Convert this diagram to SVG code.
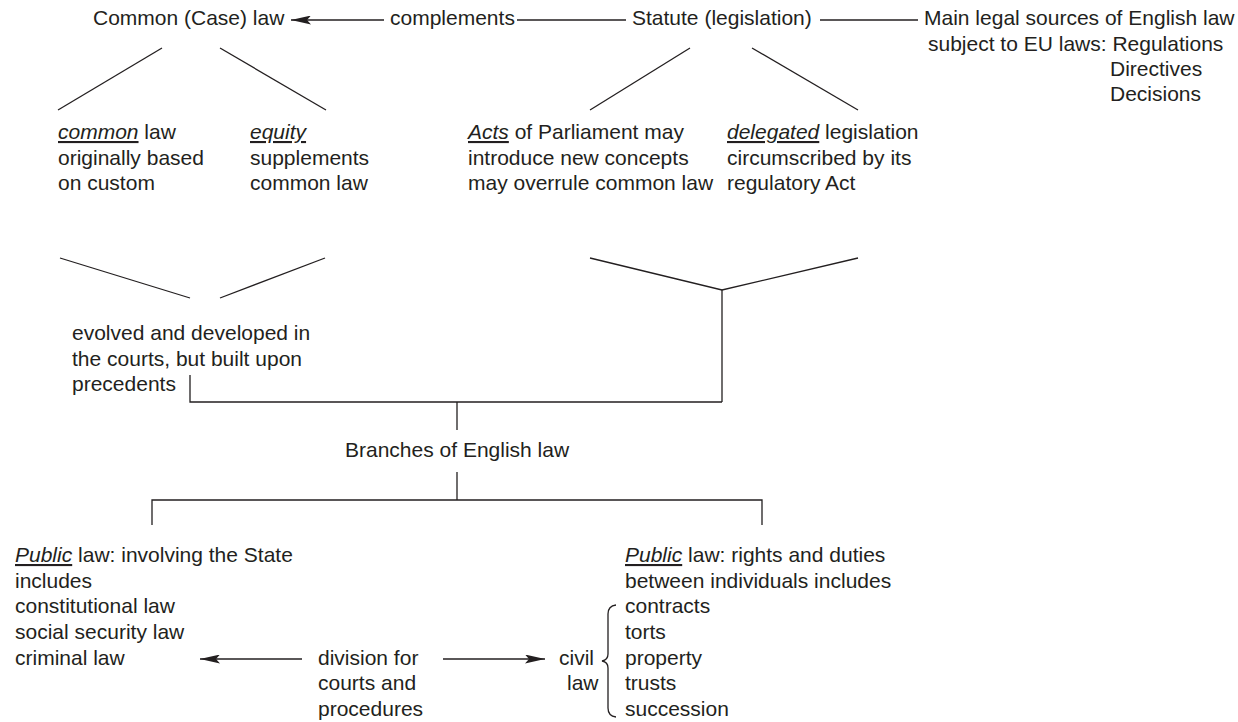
<svg xmlns="http://www.w3.org/2000/svg" width="1238" height="722" viewBox="0 0 1238 722">
<style>
text{font-family:"Liberation Sans",Arial,sans-serif;font-size:21px;fill:#231f20}
.u{font-style:italic;text-decoration:underline}
.ln{stroke:#231f20;stroke-width:1.3;fill:none}
</style>
<defs>
<marker id="ah" viewBox="0 0 20 9" refX="20" refY="4.5" markerWidth="20" markerHeight="9" orient="auto" markerUnits="userSpaceOnUse"><path d="M0,0 L20,4.5 L0,9 L4,4.5 Z" fill="#231f20"/></marker>
</defs>
<rect width="1238" height="722" fill="#fff"/>
<g id="connectors">
<line class="ln" x1="384" y1="20" x2="291" y2="20" marker-end="url(#ah)"/>
<line class="ln" x1="517" y1="20" x2="626" y2="20"/>
<line class="ln" x1="820" y1="20" x2="918" y2="20"/>
<line class="ln" x1="162" y1="48" x2="58" y2="110"/>
<line class="ln" x1="220" y1="48" x2="326" y2="110"/>
<line class="ln" x1="690" y1="48" x2="590" y2="110"/>
<line class="ln" x1="752" y1="48" x2="858" y2="110"/>
<line class="ln" x1="60" y1="258" x2="190" y2="298"/>
<line class="ln" x1="325" y1="258" x2="220" y2="298"/>
<polyline class="ln" points="590,258 722,290 858,258"/>
<line class="ln" x1="722" y1="290" x2="722" y2="402"/>
<polyline class="ln" points="190,375 190,402 722,402"/>
<line class="ln" x1="457" y1="402" x2="457" y2="430"/>
<line class="ln" x1="457" y1="472" x2="457" y2="500"/>
<polyline class="ln" points="152,525 152,500 762,500 762,525"/>
<line class="ln" x1="302" y1="659" x2="200" y2="659" marker-end="url(#ah)"/>
<line class="ln" x1="443" y1="659" x2="545" y2="659" marker-end="url(#ah)"/>
<path class="ln" d="M616,605 Q608,606 608,614 L608,654 Q608,660 602,661 Q608,662 608,668 L608,708 Q608,716 616,717"/>
</g>
<g id="common-case-law"><text x="93" y="25">Common (Case) law</text></g>
<g id="complements"><text x="390" y="25">complements</text></g>
<g id="statute"><text x="632" y="25">Statute (legislation)</text></g>
<g id="main-sources">
<text x="924" y="25">Main legal sources of English law</text>
<text x="928" y="51">subject to EU laws: Regulations</text>
<text x="1110" y="76">Directives</text>
<text x="1110" y="101">Decisions</text>
</g>
<g id="common-law">
<text x="58" y="139"><tspan class="u">common</tspan> law</text>
<text x="58" y="164.5">originally based</text>
<text x="58" y="190">on custom</text>
</g>
<g id="equity">
<text x="250" y="139"><tspan class="u">equity</tspan></text>
<text x="250" y="164.5">supplements</text>
<text x="250" y="190">common law</text>
</g>
<g id="acts">
<text x="468" y="139"><tspan class="u">Acts</tspan> of Parliament may</text>
<text x="468" y="164.5">introduce new concepts</text>
<text x="468" y="190">may overrule common law</text>
</g>
<g id="delegated">
<text x="727" y="139"><tspan class="u">delegated</tspan> legislation</text>
<text x="727" y="164.5">circumscribed by its</text>
<text x="727" y="190">regulatory Act</text>
</g>
<g id="evolved">
<text x="72" y="340">evolved and developed in</text>
<text x="72" y="365.5">the courts, but built upon</text>
<text x="72" y="391">precedents</text>
</g>
<g id="branches"><text x="345" y="457">Branches of English law</text></g>
<g id="public-state">
<text x="15" y="562"><tspan class="u">Public</tspan> law: involving the State</text>
<text x="15" y="588">includes</text>
<text x="15" y="613">constitutional law</text>
<text x="15" y="639">social security law</text>
<text x="15" y="665">criminal law</text>
</g>
<g id="public-individuals">
<text x="625" y="562"><tspan class="u">Public</tspan> law: rights and duties</text>
<text x="625" y="588">between individuals includes</text>
<text x="625" y="613">contracts</text>
<text x="625" y="639">torts</text>
<text x="625" y="665">property</text>
<text x="625" y="690">trusts</text>
<text x="625" y="716">succession</text>
</g>
<g id="division">
<text x="318" y="665">division for</text>
<text x="318" y="690">courts and</text>
<text x="318" y="716">procedures</text>
</g>
<g id="civil-law">
<text x="559" y="665">civil</text>
<text x="567" y="690">law</text>
</g>
</svg>
